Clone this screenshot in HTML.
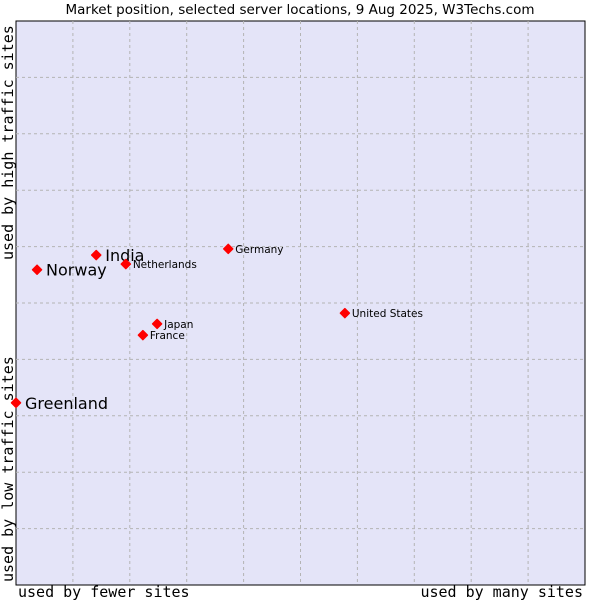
<!DOCTYPE html>
<html><head><meta charset="utf-8"><style>
html,body{margin:0;padding:0;background:#fff;width:600px;height:600px;overflow:hidden}
svg{display:block}
</style></head><body>
<svg id="chart" width="600" height="600">
<text x="300" y="14" text-anchor="middle" font-family="DejaVu Sans, sans-serif" font-size="13.5">Market position, selected server locations, 9 Aug 2025, W3Techs.com</text>
<rect x="16" y="21" width="569" height="564" fill="#e4e4f8" stroke="#000" stroke-width="1"/>
<g id="grid"></g>
<g id="pts"></g>
<text x="18" y="597" font-family="DejaVu Sans Mono, monospace" font-size="15">used by fewer sites</text>
<text x="583" y="597" text-anchor="end" font-family="DejaVu Sans Mono, monospace" font-size="15">used by many sites</text>
<text transform="translate(13,260) rotate(-90)" font-family="DejaVu Sans Mono, monospace" font-size="15">used by high traffic sites</text>
<text transform="translate(13,582) rotate(-90)" font-family="DejaVu Sans Mono, monospace" font-size="15">used by low traffic sites</text>
</svg>
<script>
const countries=["Greenland","Norway","India","Netherlands","Germany","United States","Japan","France"];
const xVals=[0,0.37,1.41,1.93,3.73,5.78,2.48,2.23];
const yVals=[3.23,5.59,5.85,5.69,5.96,4.82,4.63,4.43];
const bigLabel=[true,true,true,false,false,false,false,false];
const gridTicks=[1,2,3,4,5,6,7,8,9];
const X=v=>16+v*56.9, Y=v=>585-v*56.4;
const NS="http://www.w3.org/2000/svg";
const grid=document.getElementById('grid'), pts=document.getElementById('pts');
gridTicks.forEach(t=>{
  let l=document.createElementNS(NS,'line');
  l.setAttribute('x1',X(t));l.setAttribute('x2',X(t));l.setAttribute('y1',21);l.setAttribute('y2',585);
  l.setAttribute('stroke','#b4b4b4');l.setAttribute('stroke-dasharray','3,3');
  
  
  grid.appendChild(l);
  let h=document.createElementNS(NS,'line');
  h.setAttribute('x1',16);h.setAttribute('x2',585);h.setAttribute('y1',Y(t));h.setAttribute('y2',Y(t));
  h.setAttribute('stroke','#b4b4b4');h.setAttribute('stroke-dasharray','3,3');
  
  
  grid.appendChild(h);
});
countries.forEach((c,i)=>{
  const x=X(xVals[i]), y=Y(yVals[i]);
  let p=document.createElementNS(NS,'polygon');
  p.setAttribute('points',`${x},${y-4.5} ${x+4.5},${y} ${x},${y+4.5} ${x-4.5},${y}`);
  p.setAttribute('fill','#f00');p.setAttribute('stroke','#f00');p.setAttribute('stroke-width','1.5');p.setAttribute('stroke-linejoin','round');
  
  
  pts.appendChild(p);
  let t=document.createElementNS(NS,'text');
  t.setAttribute('x',x+(bigLabel[i]?9:7));
  t.setAttribute('y',y+(bigLabel[i]?6:4));
  t.setAttribute('font-family','DejaVu Sans, sans-serif');
  t.setAttribute('font-size',bigLabel[i]?16:10.5);
  t.textContent=c;
  
  
  pts.appendChild(t);
});
</script>
</body></html>
